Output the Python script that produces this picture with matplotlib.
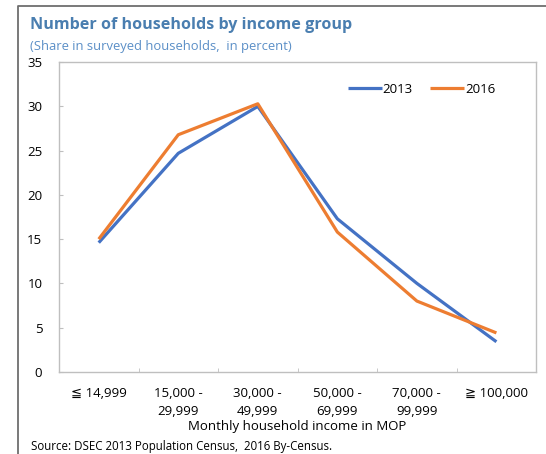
import matplotlib
matplotlib.use("Agg")
import matplotlib.pyplot as plt
from matplotlib.lines import Line2D

plt.rcParams['font.family'] = ['Open Sans', 'DejaVu Sans']

# data
categories = ['\u2266 14,999', '15,000 -\n29,999', '30,000 -\n49,999',
              '50,000 -\n69,999', '70,000 -\n99,999', '\u2267 100,000']
share_2013 = [14.6, 24.7, 30.0, 17.3, 10.0, 3.4]
share_2016 = [15.0, 26.8, 30.3, 15.8, 8.0, 4.4]
y_ticks = [0, 5, 10, 15, 20, 25, 30, 35]

blue = '#4472C4'
orange = '#ED7D31'
grey = '#BFBFBF'

fig = plt.figure(figsize=(5.46, 4.54), dpi=100)
ax = fig.add_axes([0.108, 0.181, 0.874, 0.682])

x = list(range(len(categories)))
ax.plot(x, share_2013, color=blue, lw=2.3, label='2013', solid_capstyle='butt')
ax.plot(x, share_2016, color=orange, lw=2.3, label='2016', solid_capstyle='butt')

ax.set_xlim(-0.5, len(categories) - 0.5)
ax.set_ylim(0, 35)
ax.set_yticks(y_ticks)
ax.set_xticks(x)
ax.set_xticklabels(categories, fontsize=9.5, linespacing=1.45)
ax.set_xticks([i + 0.5 for i in x[:-1]], minor=True)

for s in ax.spines.values():
    s.set_color(grey)
    s.set_linewidth(1.0)

ax.tick_params(axis='y', direction='in', length=3, color=grey, labelsize=9.5, pad=12)
ax.tick_params(axis='x', which='major', length=0, labelsize=9.5, pad=11)
ax.tick_params(axis='x', which='minor', direction='in', length=3, color=grey)

ax.set_xlabel('Monthly household income in MOP', fontsize=9.5, labelpad=2)

leg = ax.legend(ncol=2, frameon=False, loc='center right',
                bbox_to_anchor=(0.925, 0.913), fontsize=9.5,
                handlelength=2.6, handletextpad=0.05, columnspacing=1.3,
                borderaxespad=0)

fig.text(0.055, 0.945, 'Number of households by income group', fontsize=11.6,
         fontweight='bold', color='#4A7EB0', va='center', ha='left')
fig.text(0.055, 0.897, '(Share in surveyed households,  in percent)', fontsize=9.4,
         color='#5B8FC7', va='center', ha='left')
fig.text(0.056, 0.016, 'Source: DSEC 2013 Population Census,  2016 By-Census.',
         fontsize=8.3, va='center', ha='left')

# outer frame (top and left edges visible)
fig.add_artist(Line2D([0.033, 0.033, 1.0], [0.0, 0.987, 0.987],
                      transform=fig.transFigure, color='#6E6E6E', lw=1.3))

fig.savefig('out.png', dpi=100)
